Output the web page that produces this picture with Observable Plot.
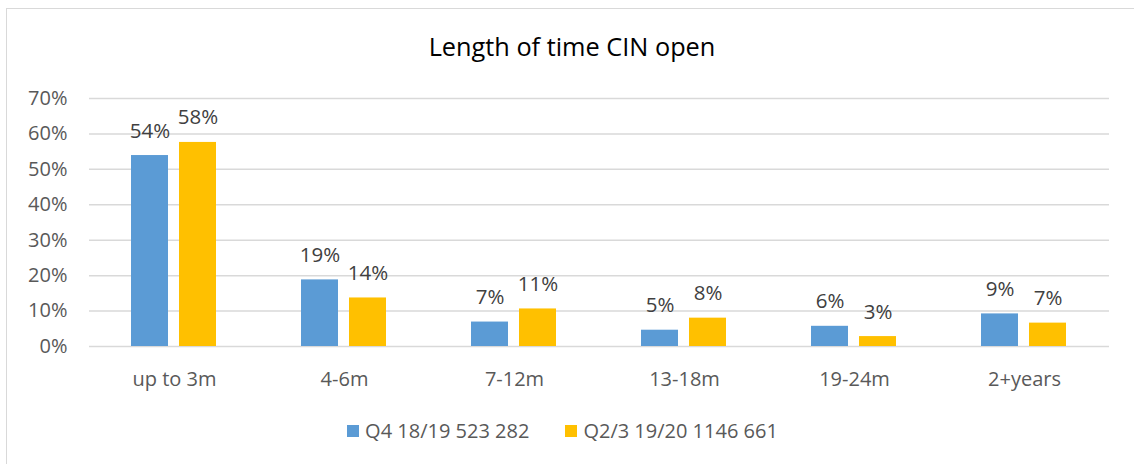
<!DOCTYPE html>
<html><head><meta charset="utf-8">
<script src="https://cdn.jsdelivr.net/npm/d3@7"></script>
<script src="https://cdn.jsdelivr.net/npm/@observablehq/plot@0.6"></script>
<style>
body{margin:0;background:#fff;width:1134px;height:464px;overflow:hidden;position:relative;font-family:"Open Sans",sans-serif;}
#frame{position:absolute;left:6px;top:8px;width:1140px;height:470px;border:1.5px solid #d9d9d9;box-sizing:border-box;}
#title{position:absolute;left:0;top:34px;width:1144px;text-align:center;font-size:25.3px;line-height:25px;color:#000;}
#chart{position:absolute;left:0;top:80px;}
#legend{position:absolute;left:0;top:419px;width:1125px;display:flex;justify-content:center;font-size:20px;line-height:24px;color:#595959;}
.item{display:flex;align-items:center;margin:0 18px;}
.sw{width:12px;height:12px;margin-right:6px;}
</style>
</head><body>
<div id="frame"></div>
<div id="title">Length of time CIN open</div>
<div id="chart"></div>
<div id="legend"></div>
<script>
const categories = ["up to 3m", "4-6m", "7-12m", "13-18m", "19-24m", "2+years"];
const seriesNames = ["Q4 18/19 523 282", "Q2/3 19/20 1146 661"];
const seriesColors = ["#5b9bd5", "#ffc000"];
const q4_1819 = [53.9, 18.8, 6.9, 4.6, 5.7, 9.2];
const q23_1920 = [57.6, 13.7, 10.6, 8.0, 2.8, 6.6];
const yTicks = [0, 10, 20, 30, 40, 50, 60, 70];

const rows = [];
categories.forEach((c, i) => {
  rows.push({cat: c, series: seriesNames[0], value: q4_1819[i]});
  rows.push({cat: c, series: seriesNames[1], value: q23_1920[i]});
});

const font = '"Open Sans", sans-serif';
const chart = Plot.plot({
  width: 1134,
  height: 320,
  marginTop: 18,
  marginBottom: 54,
  marginLeft: 88,
  marginRight: 24,
  style: {fontFamily: font, fontSize: "20px", color: "#595959", background: "transparent"},
  fx: {domain: categories, padding: 0, label: null, tickSize: 0, tickPadding: 25},
  x: {domain: seriesNames, paddingInner: 0.2245, paddingOuter: 0.85, axis: null},
  y: {domain: [0, 70], ticks: yTicks, tickFormat: d => d + "%", tickSize: 0, tickPadding: 22, label: null},
  color: {domain: seriesNames, range: seriesColors},
  marks: [
    Plot.ruleY(yTicks, {stroke: "#d9d9d9", strokeWidth: 1.5}),
    Plot.barY(rows, {fx: "cat", x: "series", y: "value", fill: "series", inset: 0}),
    Plot.text(rows, {fx: "cat", x: "series", y: "value", text: d => Math.round(d.value) + "%",
      lineAnchor: "bottom", dy: -18, fill: "#404040", fontSize: 20.5, fontFamily: font})
  ]
});
document.getElementById("chart").appendChild(chart);

const legend = document.getElementById("legend");
seriesNames.forEach((n, i) => {
  const it = document.createElement("div");
  it.className = "item";
  const sw = document.createElement("span");
  sw.className = "sw";
  sw.style.background = seriesColors[i];
  const t = document.createElement("span");
  t.textContent = n;
  it.appendChild(sw); it.appendChild(t);
  legend.appendChild(it);
});
</script>
</body></html>
